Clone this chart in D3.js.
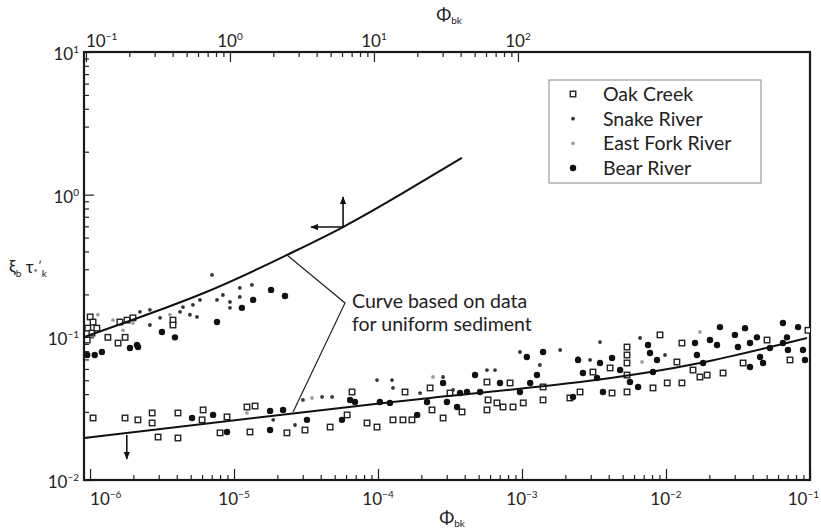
<!DOCTYPE html>
<html>
<head>
<meta charset="utf-8">
<script src="https://cdn.jsdelivr.net/npm/d3@7"></script>
<style>
  body { margin: 0; background: #fff; }
  text { font-family: Lato, "Open Sans", sans-serif; fill: #222; }
</style>
</head>
<body>
<div id="vis"></div>
<script>
// Frame dimensions
const FRAME_WIDTH = 821;
const FRAME_HEIGHT = 528;
const PLOT = {left: 84, right: 810, top: 52, bottom: 480};

// Data: [Phi_bk, xi_b * tau*'_k]
// lower cluster plotted against the bottom axis
const oakLower = [
  [1.05e-6, 0.0272], [1.75e-6, 0.0272], [2.15e-6, 0.0264], [2.70e-6, 0.0295], [2.70e-6, 0.0251],
  [4.08e-6, 0.0295], [6.10e-6, 0.0310], [6.00e-6, 0.0264], [8.94e-6, 0.0277], [1.23e-5, 0.0325],
  [1.40e-5, 0.0330], [1.29e-5, 0.0217], [2.33e-5, 0.0214], [2.97e-6, 0.0200], [4.08e-6, 0.0197],
  [8.00e-6, 0.0214], [3.11e-5, 0.0224], [4.65e-5, 0.0235], [6.10e-5, 0.0286], [6.60e-5, 0.0414],
  [8.39e-5, 0.0251], [9.84e-5, 0.0235], [1.54e-4, 0.0414], [1.27e-4, 0.0264], [1.49e-4, 0.0264],
  [1.72e-4, 0.0264], [2.37e-4, 0.0310], [2.30e-4, 0.0442], [3.16e-4, 0.0407], [3.83e-4, 0.0300],
  [2.83e-4, 0.0272], [5.71e-4, 0.0486], [5.81e-4, 0.0364], [5.71e-4, 0.0310], [8.26e-4, 0.0479],
  [7.38e-4, 0.0325], [8.66e-4, 0.0325], [1.02e-3, 0.0347], [1.40e-3, 0.0449], [1.40e-3, 0.0364],
  [6.70e-4, 0.0347], [2.15e-3, 0.0376], [2.53e-3, 0.0414], [3.11e-3, 0.0571], [4.22e-3, 0.0407],
  [4.09e-3, 0.0610], [5.36e-3, 0.0855], [5.36e-3, 0.0752], [5.36e-3, 0.0661], [5.36e-3, 0.0544],
  [5.36e-3, 0.0414], [8.12e-3, 0.0442], [1.02e-2, 0.0479], [1.29e-2, 0.0479], [1.19e-2, 0.0672],
  [1.29e-2, 0.0912], [1.54e-2, 0.0590], [1.72e-2, 0.0527], [1.93e-2, 0.0544], [2.49e-2, 0.0562],
  [3.43e-2, 0.0661], [7.26e-2, 0.0694], [5.03e-2, 0.0957], [9.68e-2, 0.112], [9.08e-3, 0.104]
];
const snakeLower = [
  [1.87e-5, 0.0264], [2.65e-5, 0.0243], [3.01e-5, 0.0364], [4.09e-5, 0.0382], [4.80e-5, 0.0382],
  [9.84e-5, 0.0502], [1.25e-4, 0.0502], [1.27e-4, 0.0442], [2.83e-4, 0.0527], [3.32e-4, 0.0428],
  [5.71e-4, 0.0590], [6.49e-4, 0.0590], [1.33e-3, 0.0640], [1.96e-4, 0.0407], [2.45e-3, 0.0716],
  [2.97e-3, 0.0694], [9.84e-3, 0.0752], [6.60e-3, 0.0989], [3.48e-3, 0.0927], [1.84e-3, 0.0815],
  [9.68e-4, 0.0789]
];
const eastForkLower = [
  [1.23e-5, 0.0295], [3.48e-5, 0.0376], [2.41e-4, 0.0527], [6.81e-3, 0.0672], [1.72e-2, 0.109]
];
const bearLower = [
  [5.11e-6, 0.0272], [7.15e-6, 0.0286], [1.78e-5, 0.0305], [2.19e-5, 0.0310], [1.78e-5, 0.0224],
  [8.94e-6, 0.0217], [3.21e-5, 0.0264], [5.62e-5, 0.0264], [6.40e-5, 0.0364], [6.92e-5, 0.0352],
  [1.21e-4, 0.0347], [1.03e-4, 0.0352], [1.87e-4, 0.0286], [2.19e-4, 0.0352], [2.83e-4, 0.0479],
  [3.01e-4, 0.0352], [3.54e-4, 0.0325], [3.71e-4, 0.0407], [4.72e-4, 0.0544], [5.11e-4, 0.0414],
  [7.03e-4, 0.0479], [1.08e-3, 0.0728], [1.40e-3, 0.0789], [1.27e-3, 0.0544], [9.68e-4, 0.0414],
  [1.14e-3, 0.0479], [2.26e-3, 0.0382], [2.45e-3, 0.0694], [4.15e-4, 0.0414], [2.65e-3, 0.0562],
  [3.48e-3, 0.0661], [3.32e-3, 0.0519], [3.65e-3, 0.0414], [4.22e-3, 0.0716], [4.80e-3, 0.0590],
  [5.62e-3, 0.0486], [6.40e-3, 0.0449], [7.50e-3, 0.0883], [7.74e-3, 0.0777], [8.66e-3, 0.0694],
  [8.12e-3, 0.0571], [1.59e-2, 0.0912], [1.64e-2, 0.0752], [1.81e-2, 0.0661], [2.02e-2, 0.0957],
  [2.26e-2, 0.0883], [3.01e-2, 0.104], [3.16e-2, 0.0855], [3.83e-2, 0.0912], [3.83e-2, 0.0619],
  [4.50e-2, 0.0728], [4.72e-2, 0.0661], [5.27e-2, 0.0842], [6.49e-2, 0.0912], [7.03e-2, 0.0815],
  [8.94e-2, 0.0815], [9.23e-2, 0.0694], [6.92e-2, 0.100], [4.28e-2, 0.100], [6.49e-2, 0.126],
  [8.26e-2, 0.118], [3.54e-2, 0.116], [2.37e-2, 0.118]
];

// upper cluster plotted against the top axis
const oakUpper = [
  [0.107, 0.139], [0.112, 0.128], [0.103, 0.116], [0.110, 0.107], [0.119, 0.116], [0.142, 0.100],
  [0.167, 0.0912], [0.187, 0.100], [0.172, 0.128], [0.193, 0.132], [0.212, 0.137], [0.402, 0.132],
  [0.402, 0.122], [0.102, 0.0957]
];
const snakeUpper = [
  [0.237, 0.151], [0.278, 0.156], [0.327, 0.137], [0.450, 0.151], [0.527, 0.144], [0.590, 0.139],
  [0.813, 0.183], [0.893, 0.198], [1.0, 0.177], [1.0, 0.161], [1.17, 0.222], [1.17, 0.192],
  [1.42, 0.233], [0.750, 0.274], [0.278, 0.122], [0.553, 0.169], [0.619, 0.183], [0.472, 0.163]
];
const eastForkUpper = [
  [0.121, 0.144], [0.154, 0.132], [0.181, 0.112], [0.212, 0.126], [0.383, 0.144]
];
const bearUpper = [
  [0.102, 0.0752], [0.115, 0.0752], [0.129, 0.0789], [0.202, 0.0842], [0.226, 0.0883],
  [0.230, 0.0855], [0.337, 0.109], [0.415, 0.100], [0.813, 0.128], [1.21, 0.161],
  [1.45, 0.183], [2.41, 0.195], [1.93, 0.215]
];

// curves based on data for uniform sediment
const curveUpper = [[0.097, 0.1005], [0.62, 0.1995], [2.49, 0.378], [6.1, 0.593], [15.1, 0.995], [40.8, 1.81]];
const curveLower = [[9.1e-7, 0.0197], [2.08e-5, 0.0286], [2.3e-4, 0.0376], [2.53e-3, 0.0486], [1.72e-2, 0.066], [9.53e-2, 0.0989]];

// tick values
const bottomMajor = [1e-6, 1e-5, 1e-4, 1e-3, 1e-2, 1e-1];
const bottomExp = ["-6", "-5", "-4", "-3", "-2", "-1"];
const topMajor = [0.1, 1, 10, 100];
const topExp = ["-1", "0", "1", "2"];
const yMajor = [0.01, 0.1, 1, 10];
const yExp = ["-2", "-1", "0", "1"];

const legendNames = ["Oak Creek", "Snake River", "East Fork River", "Bear River"];

// annotation anchors (data units)
const arrowUpperAt = [6.1, 0.593];     // top axis
const arrowLowerAt = [1.8e-6, 0.0207]; // bottom axis
const leaderUpperEnd = [2.49, 0.378];  // top axis
const leaderLowerEnd = [2.57e-5, 0.0300];
const leaderVertex = [5.9e-5, 0.174];

const SVG = d3.select("#vis").append("svg")
  .attr("width", FRAME_WIDTH)
  .attr("height", FRAME_HEIGHT);

// scales
const X_BOTTOM = d3.scaleLog().domain([9.08e-7, 0.1]).range([PLOT.left, PLOT.right]);
const X_TOP = d3.scaleLog().domain([0.0969, 1.067e4]).range([PLOT.left, PLOT.right]);
const Y_SCALE = d3.scaleLog().domain([0.01, 10]).range([PLOT.bottom, PLOT.top]);

// minor tick values from decade majors
function minors(majors) {
  const out = [];
  majors.slice(0, -1).forEach(m => { for (let k = 2; k <= 9; k++) out.push(m * k); });
  return out;
}

// axes with inside ticks
function addAxis(axisFn, scale, values, size, transform) {
  const g = SVG.append("g")
    .attr("transform", transform)
    .call(axisFn(scale).tickValues(values).tickSize(size).tickFormat(""));
  g.select(".domain").remove();
  g.selectAll("line").attr("stroke", "#222").attr("stroke-width", 1.2);
}
addAxis(d3.axisBottom, X_BOTTOM, minors(bottomMajor), -5, `translate(0,${PLOT.bottom})`);
addAxis(d3.axisBottom, X_BOTTOM, bottomMajor, -11, `translate(0,${PLOT.bottom})`);
addAxis(d3.axisTop, X_TOP, minors(topMajor), -5, `translate(0,${PLOT.top})`);
addAxis(d3.axisTop, X_TOP, topMajor, -10, `translate(0,${PLOT.top})`);
addAxis(d3.axisLeft, Y_SCALE, minors(yMajor), -5, `translate(${PLOT.left},0)`);
addAxis(d3.axisLeft, Y_SCALE, yMajor, -10, `translate(${PLOT.left},0)`);

// frame
SVG.append("rect")
  .attr("x", PLOT.left).attr("y", PLOT.top)
  .attr("width", PLOT.right - PLOT.left).attr("height", PLOT.bottom - PLOT.top)
  .attr("fill", "none").attr("stroke", "#1a1a1a").attr("stroke-width", 2.2);

// power-of-ten labels
function powLabel(x, y, exp, anchor) {
  const t = SVG.append("text").attr("x", x).attr("y", y)
    .attr("text-anchor", anchor).attr("font-size", 17);
  t.append("tspan").text("10");
  t.append("tspan").attr("dy", -7).attr("font-size", 10).text(exp.replace("-", "\u2212"));
}
bottomMajor.forEach((v, i) => {
  const last = i === bottomMajor.length - 1;
  powLabel(last ? FRAME_WIDTH - 2 : X_BOTTOM(v), 505, bottomExp[i], i === 0 ? "start" : last ? "end" : "middle");
});
topMajor.forEach((v, i) => powLabel(X_TOP(v), 47, topExp[i], i === 0 ? "start" : "middle"));
yMajor.forEach((v, i) => powLabel(PLOT.left - 5, Y_SCALE(v) + 8, yExp[i], "end"));

// axis titles
function phiLabel(x, y) {
  const t = SVG.append("text").attr("x", x).attr("y", y).attr("text-anchor", "middle").attr("font-size", 18);
  t.append("tspan").text("\u03A6");
  t.append("tspan").attr("dy", 3).attr("font-size", 10).text("bk");
}
phiLabel(449, 21);
phiLabel(452, 524);

const yLab = SVG.append("text").attr("x", 9).attr("y", 273).attr("font-size", 17);
yLab.append("tspan").text("\u03BE");
yLab.append("tspan").attr("dy", 4).attr("font-size", 10).text("b");
yLab.append("tspan").attr("dy", -4).text(" \u03C4");
yLab.append("tspan").attr("dy", 3).attr("font-size", 10).text("*");
yLab.append("tspan").attr("dy", -6).attr("font-size", 12).text("\u2032");
yLab.append("tspan").attr("dy", 7).attr("font-size", 10).text("k");

// clip for marks
SVG.append("clipPath").attr("id", "plot-clip").append("rect")
  .attr("x", PLOT.left).attr("y", PLOT.top)
  .attr("width", PLOT.right - PLOT.left).attr("height", PLOT.bottom - PLOT.top);
const marks = SVG.append("g").attr("clip-path", "url(#plot-clip)");

// marker drawing per series
function drawSeries(data, xs, kind) {
  const sel = marks.append("g").selectAll("points").data(data).enter();
  if (kind === "oak") {
    sel.append("rect")
      .attr("x", d => xs(d[0]) - 2.75).attr("y", d => Y_SCALE(d[1]) - 2.75)
      .attr("width", 5.5).attr("height", 5.5)
      .attr("fill", "#fff").attr("stroke", "#222").attr("stroke-width", 1.4);
  } else {
    sel.append("circle")
      .attr("cx", d => xs(d[0])).attr("cy", d => Y_SCALE(d[1]))
      .attr("r", kind === "bear" ? 3.2 : 1.9)
      .attr("fill", kind === "bear" ? "#111" : kind === "snake" ? "#333" : "#a0a0a0");
  }
}
drawSeries(oakLower, X_BOTTOM, "oak");
drawSeries(oakUpper, X_TOP, "oak");
drawSeries(snakeLower, X_BOTTOM, "snake");
drawSeries(snakeUpper, X_TOP, "snake");
drawSeries(eastForkLower, X_BOTTOM, "east");
drawSeries(eastForkUpper, X_TOP, "east");
drawSeries(bearLower, X_BOTTOM, "bear");
drawSeries(bearUpper, X_TOP, "bear");

// curves
function drawCurve(data, xs) {
  marks.append("path")
    .datum(data)
    .attr("d", d3.line().x(d => xs(d[0])).y(d => Y_SCALE(d[1])).curve(d3.curveNatural))
    .attr("fill", "none").attr("stroke", "#111").attr("stroke-width", 2);
}
drawCurve(curveUpper, X_TOP);
drawCurve(curveLower, X_BOTTOM);

// arrows
SVG.append("defs").append("marker")
  .attr("id", "head").attr("viewBox", "0 0 10 10").attr("refX", 9).attr("refY", 5)
  .attr("markerWidth", 5).attr("markerHeight", 5).attr("orient", "auto")
  .append("path").attr("d", "M0,1 L10,5 L0,9 Z").attr("fill", "#111");

function arrow(x1, y1, x2, y2) {
  SVG.append("line").attr("x1", x1).attr("y1", y1).attr("x2", x2).attr("y2", y2)
    .attr("stroke", "#111").attr("stroke-width", 1.6).attr("marker-end", "url(#head)");
}
const ax = X_TOP(arrowUpperAt[0]), ay = Y_SCALE(arrowUpperAt[1]);
arrow(ax, ay, ax, ay - 30);
arrow(ax, ay, ax - 32, ay);
const bx = X_BOTTOM(arrowLowerAt[0]), by = Y_SCALE(arrowLowerAt[1]);
arrow(bx, by, bx, by + 24);

// leader lines and annotation text
const vx = X_BOTTOM(leaderVertex[0]), vy = Y_SCALE(leaderVertex[1]);
SVG.append("polyline")
  .attr("points", [
    [X_TOP(leaderUpperEnd[0]), Y_SCALE(leaderUpperEnd[1])],
    [vx, vy],
    [X_BOTTOM(leaderLowerEnd[0]), Y_SCALE(leaderLowerEnd[1])]
  ].map(p => p.join(",")).join(" "))
  .attr("fill", "none").attr("stroke", "#222").attr("stroke-width", 1.2);

SVG.append("text").attr("x", vx + 7).attr("y", vy + 5).attr("font-size", 19.5).text("Curve based on data");
SVG.append("text").attr("x", vx + 7).attr("y", vy + 28).attr("font-size", 19.5).text("for uniform sediment");

// legend
const LEG = {x: 549, y: 80, w: 212, h: 103};
const legend = SVG.append("g");
legend.append("rect").attr("x", LEG.x).attr("y", LEG.y).attr("width", LEG.w).attr("height", LEG.h)
  .attr("fill", "#fff").attr("stroke", "#888").attr("stroke-width", 1);
const legY = d3.scalePoint().domain(legendNames).range([LEG.y + 14, LEG.y + 88]);
legendNames.forEach((name, i) => {
  const y = legY(name);
  if (i === 0) {
    legend.append("rect").attr("x", 570.25).attr("y", y - 2.75).attr("width", 5.5).attr("height", 5.5)
      .attr("fill", "#fff").attr("stroke", "#222").attr("stroke-width", 1.4);
  } else {
    legend.append("circle").attr("cx", 573).attr("cy", y)
      .attr("r", i === 3 ? 3.2 : 1.9)
      .attr("fill", i === 3 ? "#111" : i === 1 ? "#333" : "#a0a0a0");
  }
  legend.append("text").attr("x", 603).attr("y", y + 7).attr("font-size", 19.5).text(name);
});
</script>
</body>
</html>
